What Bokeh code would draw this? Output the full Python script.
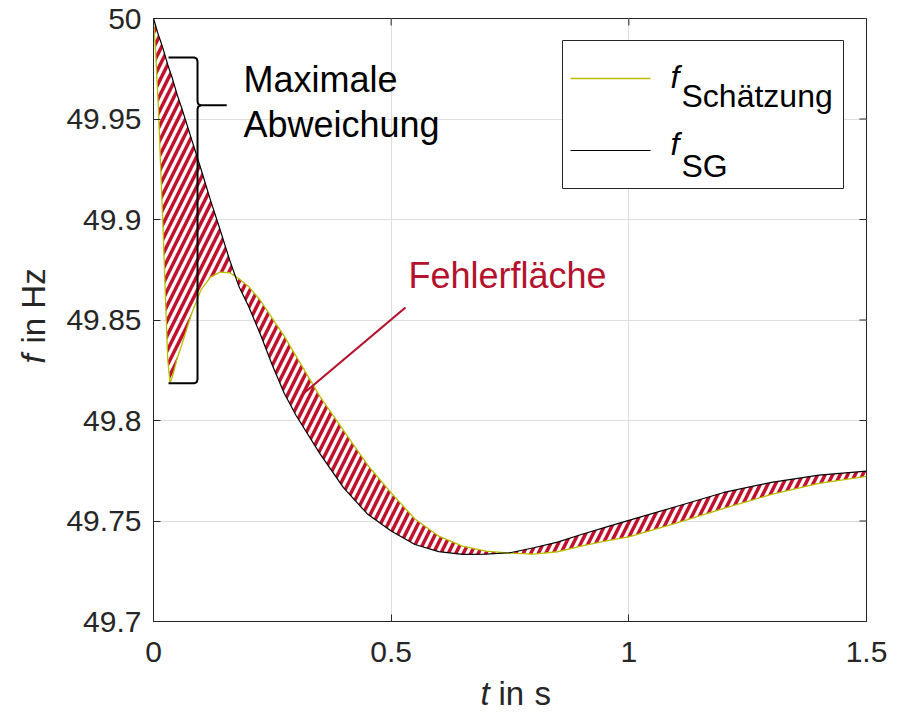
from bokeh.plotting import figure
from bokeh.models import Range1d, FixedTicker, LinearAxis, Label
from bokeh.embed import file_html
from bokeh.resources import INLINE

# ---------------- data ----------------
t = [0.0, 0.005, 0.01, 0.015, 0.02, 0.025, 0.03, 0.035, 0.04, 0.05, 0.06, 0.08,
     0.1, 0.12, 0.14, 0.16, 0.18, 0.2, 0.225, 0.25, 0.275, 0.3, 0.35, 0.4, 0.45,
     0.5, 0.55, 0.6, 0.65, 0.7, 0.75, 0.8, 0.85, 0.9, 0.95, 1.0, 1.1, 1.2, 1.3,
     1.4, 1.5]
f_schaetzung = [50.0, 49.981, 49.957, 49.926, 49.896, 49.862, 49.830, 49.8185,
                49.822, 49.831, 49.838, 49.853, 49.865, 49.8713, 49.8738, 49.8735,
                49.8705, 49.8667, 49.8597, 49.8508, 49.842, 49.832, 49.812, 49.795,
                49.778, 49.764, 49.751, 49.7425, 49.7375, 49.735, 49.7340, 49.7335,
                49.7347, 49.7375, 49.740, 49.7421, 49.749, 49.7563, 49.7632,
                49.7687, 49.7722]
f_sg = [50.0, 49.996, 49.992, 49.9887, 49.985, 49.981, 49.977, 49.9735, 49.970,
        49.962, 49.955, 49.940, 49.925, 49.9095, 49.895, 49.880, 49.8665, 49.8568,
        49.8428, 49.8275, 49.8136, 49.8025, 49.7835, 49.7665, 49.7535, 49.745,
        49.7383, 49.7348, 49.7334, 49.7335, 49.7342, 49.7367, 49.7395, 49.7433,
        49.7468, 49.7503, 49.7572, 49.7642, 49.7692, 49.7728, 49.7748]

x_ticks = [0, 0.5, 1, 1.5]
x_tick_labels = ["0", "0.5", "1", "1.5"]
y_ticks = [49.7, 49.75, 49.8, 49.85, 49.9, 49.95, 50.0]
y_tick_labels = ["49.7", "49.75", "49.8", "49.85", "49.9", "49.95", "50"]

# ---------------- style ----------------
AX = "#262626"
GRID = "#dedede"
YEL = "#b8bf00"
RED = "#c0112d"
TXT_RED = "#b5122d"
FONT = "Liberation Sans"
X0, X1, Y0, Y1 = 0.0, 1.5, 49.7, 50.0
FW, FH = 713, 603

p = figure(frame_width=FW, frame_height=FH,
           min_border_left=153, min_border_right=35, min_border_top=18,
           min_border_bottom=92,
           x_range=Range1d(X0, X1), y_range=Range1d(Y0, Y1),
           output_backend="svg", toolbar_location=None,
           x_axis_location=None, y_axis_location=None)
p.background_fill_color = "white"
p.border_fill_color = "white"
p.outline_line_color = AX
p.outline_line_width = 1

for g, tk in ((p.xgrid, x_ticks), (p.ygrid, y_ticks)):
    g.ticker = FixedTicker(ticks=tk)
    g.grid_line_color = GRID
    g.grid_line_width = 1

def style_axis(ax, ticks, labels):
    ax.ticker = FixedTicker(ticks=ticks)
    ax.axis_line_color = AX
    ax.axis_line_width = 1
    ax.major_tick_line_color = AX
    ax.major_tick_in = 7
    ax.major_tick_out = 0
    ax.minor_tick_line_color = None
    ax.major_label_text_font = FONT
    ax.major_label_text_font_size = "30px"
    ax.major_label_text_color = AX
    ax.major_label_overrides = {tk: lb for tk, lb in zip(ticks, labels)}

xb = LinearAxis(); style_axis(xb, x_ticks, x_tick_labels); xb.major_label_standoff = 20
yl = LinearAxis(); style_axis(yl, y_ticks, y_tick_labels); yl.major_label_standoff = 12
p.add_layout(xb, "below")
p.add_layout(yl, "left")

# pixel helpers for annotation placement (screen px of the 901x713 page -> data)
def dx_px(px):
    return X0 + (px - 153) * (X1 - X0) / FW
def dy_px(py):
    return Y1 - (py - 18) * (Y1 - Y0) / FH
MID = 0.3535  # text_baseline "middle" sits this many em above the baseline

# inward ticks on top and right frame edges (box on)
TICK_DX = 7 * (X1 - X0) / FW
TICK_DY = 7 * (Y1 - Y0) / FH
p.segment(x0=x_ticks, y0=[Y1] * len(x_ticks), x1=x_ticks, y1=[Y1 - TICK_DY] * len(x_ticks),
          line_color=AX, line_width=1)
p.segment(x0=[X1] * len(y_ticks), y0=y_ticks, x1=[X1 - TICK_DX] * len(y_ticks), y1=y_ticks,
          line_color=AX, line_width=1)

# error area (hatched)
p.varea(x=t, y1=f_schaetzung, y2=f_sg, fill_color=None, fill_alpha=0,
        hatch_pattern="/", hatch_color=RED, hatch_weight=3.5, hatch_scale=15)

# curves
p.line(t, f_schaetzung, line_color=YEL, line_width=1.3)
p.line(t, f_sg, line_color="black", line_width=1.2)

# ---------------- annotations ----------------
# curly brace "Maximale Abweichung"
BX, BL, BTOP, BBOT, TIPY, TIPX = 0.0926, 0.0316, 49.9806, 49.8185, 49.9568, 0.154
ex, ey = 0.007, 0.002
upper_x = [BL, BX - ex, BX - 0.0015, BX, BX, BX + 0.0015, BX + ex, TIPX]
upper_y = [BTOP, BTOP, BTOP - 0.0006, BTOP - ey, TIPY + ey, TIPY + 0.0006, TIPY, TIPY]
lower_x = [BX + ex, BX + 0.0015, BX, BX, BX - 0.0015, BX - ex, BL]
lower_y = [TIPY, TIPY - 0.0006, TIPY - ey, BBOT + ey, BBOT + 0.0006, BBOT, BBOT]
p.multi_line([upper_x, lower_x], [upper_y, lower_y], line_color="black", line_width=2)

def label(px, base_py, text, size, color="black", italic=False, angle=0.0, panel=None):
    style = "italic" if italic else "normal"
    if angle == 0.0:
        x, y = dx_px(px), dy_px(base_py - MID * size)
    else:  # rotated 90 deg: px is baseline x, base_py is text start
        x, y = dx_px(px - MID * size), dy_px(base_py)
    lb = Label(x=x, y=y, text=text, text_font=FONT, text_font_size=f"{size}px",
               text_font_style=style, text_color=color, text_baseline="middle",
               text_align="left", angle=angle)
    if panel is None:
        p.add_layout(lb)
    else:
        p.add_layout(lb, panel)

label(243, 92, "Maximale", 36)
label(243, 137, "Abweichung", 36)

# "Fehlerfläche" with pointer
label(408, 288, "Fehlerfläche", 36, color=TXT_RED)
p.line([dx_px(405), dx_px(303)], [dy_px(307), dy_px(393)], line_color=TXT_RED, line_width=2.2)

# legend (box drawn as glyph so that its sample lines lie on top)
p.quad(left=[dx_px(562)], right=[dx_px(843)], top=[dy_px(40)], bottom=[dy_px(188)],
       fill_color="white", line_color=AX, line_width=1)
p.line([dx_px(570), dx_px(650)], [dy_px(78), dy_px(78)], line_color=YEL, line_width=1.3)
p.line([dx_px(570), dx_px(650)], [dy_px(150), dy_px(150)], line_color="black", line_width=1.2)
label(670, 88, "f", 32, italic=True)
label(681, 107, "Schätzung", 32)
label(670, 155, "f", 32, italic=True)
label(681, 177, "SG", 32)

# axis titles (italic variable + upright unit), placed in side panels so they are not clipped
label(480, 705, "t", 33, color=AX, italic=True, panel="left")
label(498, 705, "in", 33, color=AX, panel="right")
label(534, 705, "s", 33, color=AX, panel="left")
label(45, 363, "f", 33, color=AX, italic=True, angle=1.5707963, panel="below")
label(45, 343, "in Hz", 33, color=AX, angle=1.5707963, panel="left")

open("out.html", "w").write(file_html(p, INLINE))
